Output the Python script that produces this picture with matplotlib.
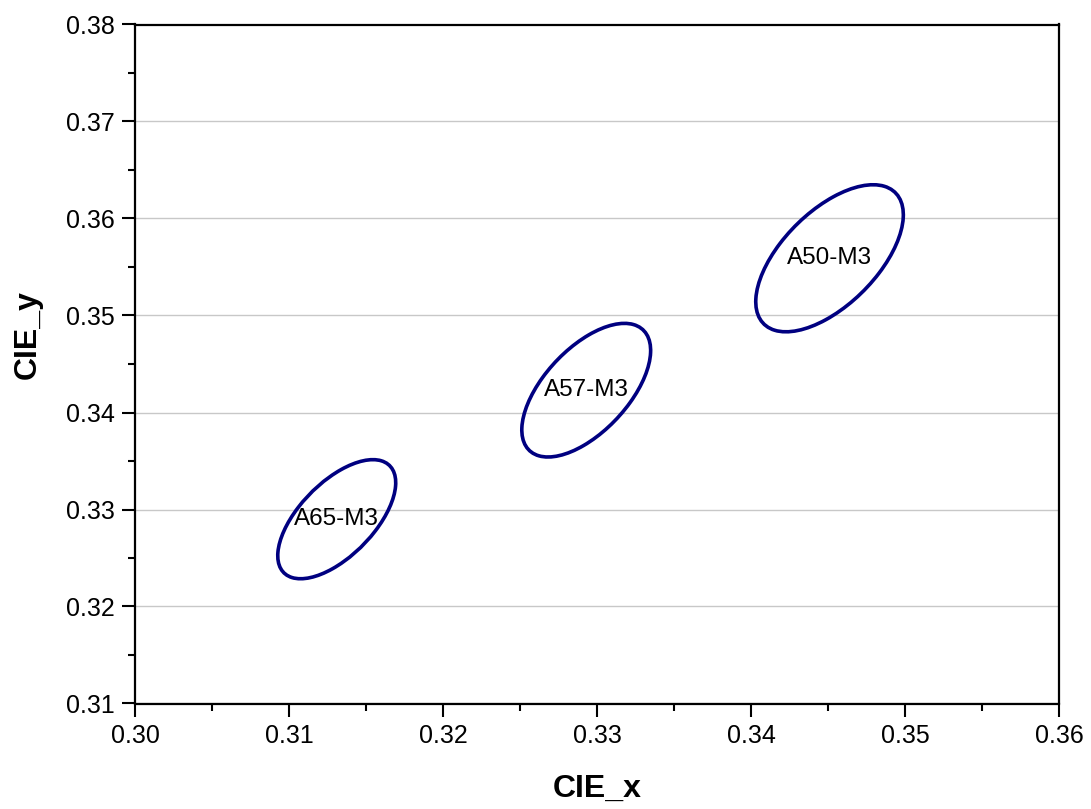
import numpy as np
import matplotlib
matplotlib.use("Agg")
import matplotlib.pyplot as plt
from matplotlib.patches import Ellipse
from matplotlib.ticker import MultipleLocator, FormatStrFormatter

plt.rcParams['font.family'] = ['Liberation Sans', 'DejaVu Sans']

# 3-step ellipses: centre, semi-axes and tilt (data units / degrees)
names = ["A65-M3", "A57-M3", "A50-M3"]
cx = [0.3131, 0.3293, 0.3451]
cy = [0.3290, 0.3423, 0.3559]
semi_a = [0.00668, 0.00743, 0.00823]
semi_b = [0.00278, 0.00312, 0.00356]
tilt = [64.3, 65.6, 64.4]

fig = plt.figure(figsize=(10.91, 8.09), dpi=100)
ax = fig.add_axes([135 / 1091, 1 - 703.5 / 809, 924 / 1091, 679 / 809])

for n, x, y, a, b, t in zip(names, cx, cy, semi_a, semi_b, tilt):
    ax.add_patch(Ellipse((x, y), 2 * a, 2 * b, angle=t, fill=False,
                         edgecolor="#000080", linewidth=2.6, zorder=3))
    ax.text(x, y, n, ha="center", va="center", fontsize=17.5, zorder=4)

ax.set_xlim(0.30, 0.36)
ax.set_ylim(0.31, 0.38)
ax.xaxis.set_major_locator(MultipleLocator(0.01))
ax.xaxis.set_minor_locator(MultipleLocator(0.005))
ax.yaxis.set_major_locator(MultipleLocator(0.01))
ax.yaxis.set_minor_locator(MultipleLocator(0.005))
ax.xaxis.set_major_formatter(FormatStrFormatter("%.2f"))
ax.yaxis.set_major_formatter(FormatStrFormatter("%.2f"))

ax.grid(axis="y", which="major", color="#c8c8c8", linewidth=1.0, zorder=0)
ax.set_axisbelow(True)

for s in ax.spines.values():
    s.set_linewidth(1.6)
ax.tick_params(which="major", direction="out", length=9.5, width=1.5,
               labelsize=18, pad=5, top=False, right=False)
ax.tick_params(which="minor", direction="out", length=5, width=1.5,
               top=False, right=False)

ax.set_xlabel("CIE_x", fontsize=23, fontweight="bold")
ax.set_ylabel("CIE_y", fontsize=23, fontweight="bold")
ax.xaxis.set_label_coords(0.5, -0.103)
ax.yaxis.set_label_coords(-0.1, 0.544)

fig.savefig("out.png", dpi=100)
